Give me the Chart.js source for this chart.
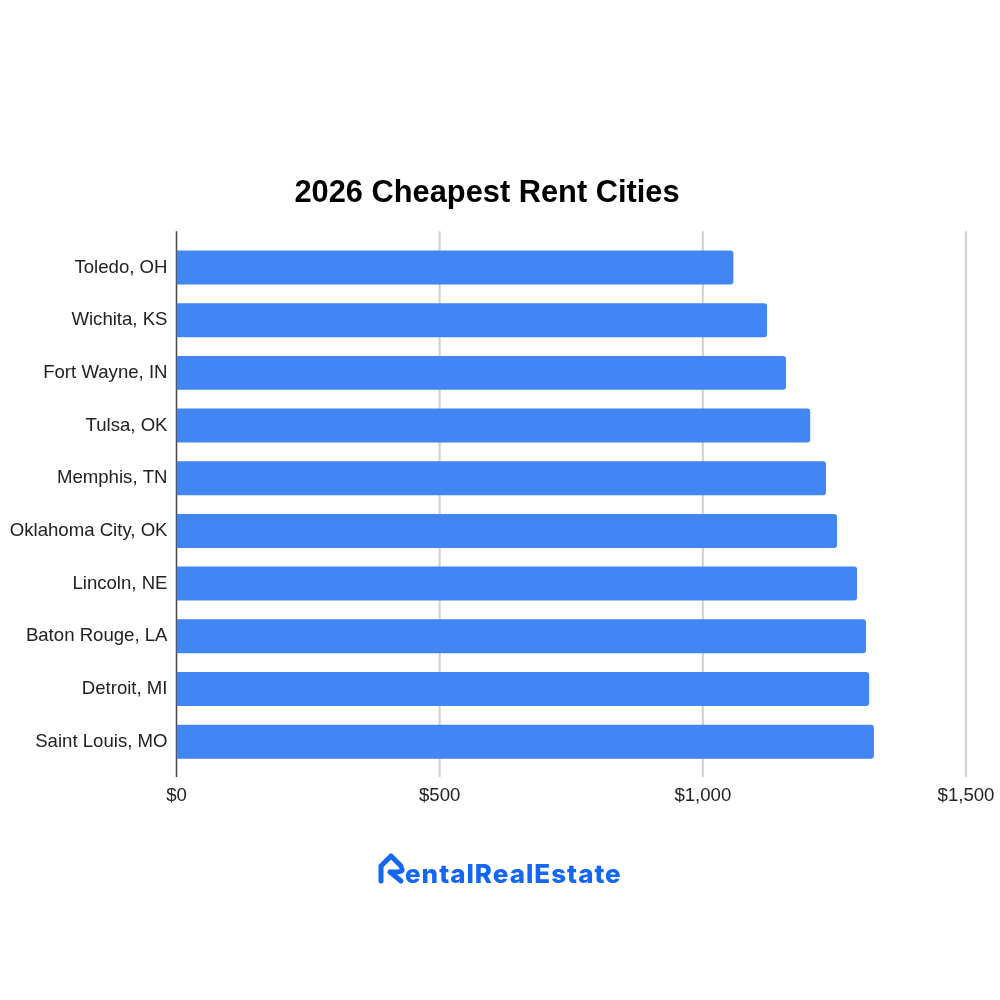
<!DOCTYPE html>
<html>
<head>
<meta charset="utf-8">
<title>2026 Cheapest Rent Cities</title>
<script src="https://cdn.jsdelivr.net/npm/chart.js@4/dist/chart.umd.min.js"></script>
<style>
    html, body { margin: 0; padding: 0; background: #ffffff; }
    #wrap { width: 1000px; height: 1000px; }
</style>
</head>
<body>
<div id="wrap"><canvas id="rentChart" width="1000" height="1000"></canvas></div>
<script>
const cities = ["Toledo, OH", "Wichita, KS", "Fort Wayne, IN", "Tulsa, OK", "Memphis, TN", "Oklahoma City, OK", "Lincoln, NE", "Baton Rouge, LA", "Detroit, MI", "Saint Louis, MO"];
const rents = [1058, 1122, 1158, 1204, 1234, 1255, 1293, 1310, 1316, 1325];
const xTickLabels = ["$0", "$500", "$1,000", "$1,500"];
const titleText = "2026 Cheapest Rent Cities";
const logoText = "entalRealEstate";

const fontName = "'Liberation Sans', Arial, sans-serif";

// axis lines run a bit past the first and last bar, so they are drawn here
const axisLines = {
    id: "axisLines",
    beforeDatasetsDraw(chart) {
        const ctx = chart.ctx;
        const x = chart.scales.x;
        const top = chart.chartArea.top - 10;
        const bottom = chart.chartArea.bottom + 9;
        ctx.save();
        x.ticks.forEach((tick, i) => {
            const px = x.getPixelForValue(tick.value);
            ctx.beginPath();
            ctx.moveTo(px, top);
            ctx.lineTo(px, bottom);
            ctx.lineWidth = i === 0 ? 1.5 : 2;
            ctx.strokeStyle = i === 0 ? "#4a4a4a" : "#d0d0d0";
            ctx.stroke();
        });
        ctx.restore();
    }
};

const logo = {
    id: "logo",
    afterDraw(chart) {
        const ctx = chart.ctx;
        ctx.save();
        ctx.strokeStyle = "#1467f5";
        ctx.fillStyle = "#1467f5";
        ctx.lineWidth = 5;
        ctx.lineCap = "round";
        ctx.lineJoin = "round";
        // house shaped R
        ctx.beginPath();
        ctx.moveTo(381, 881);
        ctx.lineTo(381, 866);
        ctx.lineTo(391, 856);
        ctx.lineTo(401, 866);
        ctx.stroke();
        ctx.beginPath();
        ctx.moveTo(390, 872);
        ctx.lineTo(395, 872);
        ctx.quadraticCurveTo(403, 872, 402, 869);
        ctx.moveTo(390, 872);
        ctx.lineTo(401, 881);
        ctx.stroke();
        ctx.font = "800 26px Inter, sans-serif";
        ctx.letterSpacing = "1px";
        ctx.textAlign = "left";
        ctx.textBaseline = "alphabetic";
        ctx.fillText(logoText, 405, 883);
        ctx.restore();
    }
};

new Chart(document.getElementById("rentChart"), {
    type: "bar",
    data: {
        labels: cities,
        datasets: [
            {
                label: "Rent",
                data: rents,
                backgroundColor: "#4285F4",
                barPercentage: 0.645,
                categoryPercentage: 1,
                borderRadius: { topLeft: 0, bottomLeft: 0, topRight: 3, bottomRight: 3 },
                borderSkipped: false
            }
        ]
    },
    options: {
        indexAxis: "y",
        responsive: false,
        animation: false,
        layout: { padding: { left: 0, right: 26, top: 0, bottom: 0 } },
        scales: {
            x: {
                min: 0,
                max: 1500,
                border: { display: false },
                grid: { display: false, drawTicks: false },
                afterBuildTicks(scale) {
                    scale.ticks = xTickLabels.map((_, i) => ({ value: i * 500 }));
                },
                afterFit(scale) {
                    scale.height = 232;
                    scale.paddingRight = 34;
                },
                ticks: {
                    padding: 17,
                    maxRotation: 0,
                    color: "#222222",
                    font: { family: fontName, size: 18.6 },
                    callback: (value, i) => xTickLabels[i]
                }
            },
            y: {
                border: { display: false },
                grid: { display: false, drawTicks: false },
                afterFit(scale) { scale.width = 176.5; },
                ticks: {
                    padding: 9,
                    autoSkip: false,
                    color: "#222222",
                    font: { family: fontName, size: 18.6 }
                }
            }
        },
        plugins: {
            legend: { display: false },
            tooltip: { enabled: false },
            title: {
                display: true,
                text: titleText,
                color: "#000000",
                font: { family: fontName, size: 30.8, weight: "bold" },
                padding: { top: 175, bottom: 29.2 }
            }
        }
    },
    plugins: [axisLines, logo]
});
</script>
</body>
</html>
